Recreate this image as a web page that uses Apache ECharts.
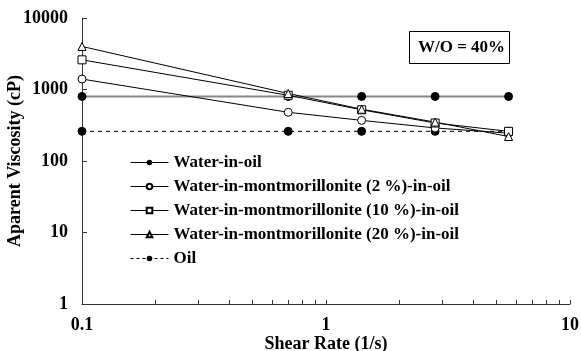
<!DOCTYPE html>
<html>
<head>
<meta charset="utf-8">
<script src="https://cdn.jsdelivr.net/npm/echarts@6/dist/echarts.min.js"></script>
<style>
html,body{margin:0;padding:0;background:#fff;}
#c{width:581px;height:351px;}
</style>
</head>
<body>
<div id="c"></div>
<script>
var shearRate = [0.1, 0.7, 1.4, 2.8, 5.6];
var waterInOil = [800, 800, 800, 800, 800];
var mont2 = [1400, 480, 370, 290, 245];
var mont10 = [2600, 830, 520, 340, 260];
var mont20 = [4000, 880, 530, 350, 220];
var oil = [260, 260, 260, 260, 260];
var xTickValues = [0.1,0.2,0.3,0.4,0.5,0.6,0.7,0.8,0.9,1,2,3,4,5,6,7,8,9,10];
var xLabelValues = [0.1, 1, 10];
var seriesNames = [
  'Water-in-oil',
  'Water-in-montmorillonite (2 %)-in-oil',
  'Water-in-montmorillonite (10 %)-in-oil',
  'Water-in-montmorillonite (20 %)-in-oil',
  'Oil'
];

function pairs(ys){ return shearRate.map(function(x,i){ return [x, ys[i]]; }); }

var FONT = '"Liberation Serif", "DejaVu Serif", serif';
var chart = echarts.init(document.getElementById('c'), null, {renderer:'canvas'});
chart.setOption({
  backgroundColor: '#fff',
  animation: false,
  textStyle: {fontFamily: FONT},
  grid: {left: 82, right: 11, top: 18, bottom: 47, outerBoundsMode: 'none', containLabel: false},
  xAxis: {
    type: 'log', logBase: 10, min: 0.1, max: 10,
    name: 'Shear Rate (1/s)', nameLocation: 'middle', nameGap: 31, nameMoveOverlap: false,
    nameTextStyle: {fontFamily: FONT, fontWeight: 'bold', fontSize: 18, color: '#000'},
    axisLine: {lineStyle: {color: '#333', width: 1}},
    axisTick: {inside: true, length: 4, lineStyle: {color: '#333'}, customValues: xTickValues},
    axisLabel: {customValues: xLabelValues, fontFamily: FONT, fontWeight: 'bold', fontSize: 18, color: '#000', margin: 12,
      formatter: function(v){ return String(v); }},
    splitLine: {show: false}
  },
  yAxis: {
    type: 'log', logBase: 10, min: 1, max: 10000,
    name: 'Aparent Viscosity (cP)', nameLocation: 'middle', nameGap: 58, nameRotate: 90, nameMoveOverlap: false,
    nameTextStyle: {fontFamily: FONT, fontWeight: 'bold', fontSize: 18, color: '#000'},
    axisLine: {show: true, lineStyle: {color: '#333', width: 1}},
    axisTick: {show: true, inside: true, length: 5, lineStyle: {color: '#333'}},
    axisLabel: {fontFamily: FONT, fontWeight: 'bold', fontSize: 18, color: '#000', margin: 14,
      formatter: function(v){ return String(v); }},
    splitLine: {show: false}
  },
  legend: {
    orient: 'vertical', left: 125, top: 149, itemWidth: 38, itemHeight: 7, itemGap: 7,
    textStyle: {fontFamily: FONT, fontWeight: 'bold', fontSize: 17, color: '#000'},
    data: seriesNames.map(function(n, i){
      return {name: n, lineStyle: {color: '#000', width: 1, type: i === 4 ? [3, 3] : 'solid'}};
    })
  },
  graphic: [{
    type: 'group', left: 409, top: 31,
    children: [
      {type: 'rect', shape: {x: 0, y: 0, width: 100, height: 32}, style: {fill: '#fff', stroke: '#000', lineWidth: 1}},
      {type: 'text', x: 52, y: 16, style: {text: 'W/O = 40%', fontFamily: FONT, fontWeight: 'bold', fontSize: 17, fill: '#000', align: 'center', verticalAlign: 'middle'}}
    ]
  }],
  series: [
    {name: seriesNames[0], type: 'line', data: pairs(waterInOil), symbol: 'circle', symbolSize: 8,
     itemStyle: {color: '#000', borderColor: '#000'}, lineStyle: {color: '#888', width: 2}, z: 2},
    {name: seriesNames[1], type: 'line', data: pairs(mont2), symbol: 'circle', symbolSize: 8,
     itemStyle: {color: '#fff', borderColor: '#000', borderWidth: 1}, lineStyle: {color: '#000', width: 1}, z: 3},
    {name: seriesNames[2], type: 'line', data: pairs(mont10), symbol: 'rect', symbolSize: 8,
     itemStyle: {color: '#fff', borderColor: '#000', borderWidth: 1}, lineStyle: {color: '#000', width: 1}, z: 3},
    {name: seriesNames[3], type: 'line', data: pairs(mont20), symbol: 'triangle', symbolSize: 8,
     itemStyle: {color: '#fff', borderColor: '#000', borderWidth: 1}, lineStyle: {color: '#000', width: 1}, z: 3},
    {name: seriesNames[4], type: 'line', data: pairs(oil), symbol: 'circle', symbolSize: 8,
     itemStyle: {color: '#000', borderColor: '#000'}, lineStyle: {color: '#000', width: 1, type: [4, 4]}, z: 2}
  ]
});
</script>
</body>
</html>
